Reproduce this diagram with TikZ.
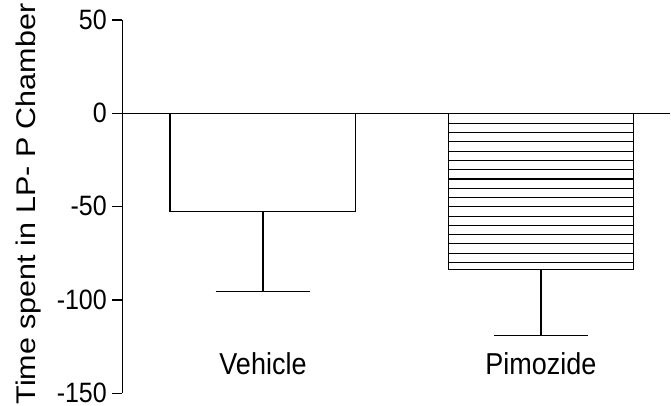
\documentclass[tikz,border=0pt]{standalone}
\usepackage{graphicx}
\usepackage{fontspec}
\setmainfont{Liberation Sans}
\begin{document}
\begin{tikzpicture}[x=1pt,y=-1pt,
  ax/.style={line width=1.4pt, black},
  hatch/.style={line width=1.1pt, black},
  lbl/.style={inner sep=0pt, font=\fontsize{27}{30}\selectfont},
  ticklbl/.style={inner sep=0pt, font=\fontsize{25}{28}\selectfont, anchor=base east}]
\useasboundingbox (0,0) rectangle (671,405);
% axis
\draw[ax] (122.3,20) -- (122.3,393.3);
\foreach \yy/\t [count=\i] in {20/50, 113.3/0, 206.6/-50, 300/-100, 393.3/-150} {
  \draw[ax] (112.3,\yy) -- (122.3,\yy);
  \node[ticklbl] (tk\i) at (107,\yy+9.3) {\scalebox{1}[1.12]{\t}};
}
% zero line
\draw[ax] (122.3,113.3) -- (670,113.3);
% Vehicle
\draw[ax] (170,113.3) rectangle (355.7,211.7);
\draw[ax] (263,211.7) -- (263,291.7);
\draw[ax] (215.7,291.7) -- (310,291.7);
% Pimozide
\foreach \k in {0,...,15} {
  \draw[hatch] (448.3,123.3+9.28*\k) -- (633.3,123.3+9.28*\k);
}
\draw[ax] (448.3,113.3) rectangle (633.3,269.3);
\draw[ax] (541,269.3) -- (541,335.3);
\draw[ax] (494,335.3) -- (588,335.3);
% labels
\node[lbl, anchor=base] (veh) at (263,374) {\scalebox{1}[1.12]{Vehicle}};
\node[lbl, anchor=base] (pim) at (541,374) {\scalebox{1}[1.12]{Pimozide}};
\node[lbl, anchor=base, rotate=90] (ylab) at (35,204) {\scalebox{1.13}[1]{Time spent in LP- P Chamber}};
\end{tikzpicture}
\end{document}
